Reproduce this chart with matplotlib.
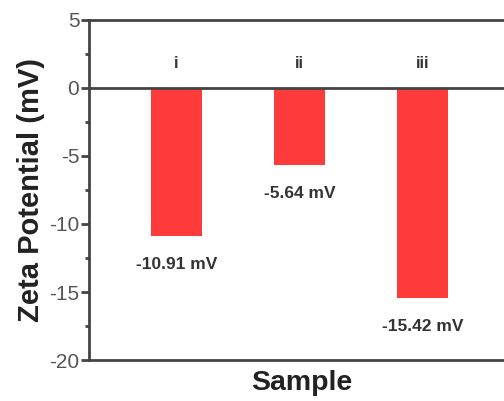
import numpy as np
import matplotlib
matplotlib.use("Agg")
import matplotlib.pyplot as plt

plt.rcParams['font.family'] = ['Liberation Sans', 'DejaVu Sans']
plt.rcParams['axes.unicode_minus'] = False

samples = ["i", "ii", "iii"]
zeta = [-10.91, -5.64, -15.42]
value_labels = ["-10.91 mV", "-5.64 mV", "-15.42 mV"]

fig = plt.figure(figsize=(5.04, 4.01), dpi=100)
ax = fig.add_axes([0.1766, 0.1022, 0.845, 0.848])

x = np.arange(1, len(samples) + 1)
ax.bar(x, zeta, width=0.41, color="#ff3a3a", zorder=2)
ax.axhline(0, color="#444444", lw=2, zorder=3)

for xi, name, v, lab in zip(x, samples, zeta, value_labels):
    ax.text(xi, 1.8, name, ha="center", va="center", fontsize=12,
            fontweight="bold", color="#333333")
    ax.text(xi, v - 2.1, lab, ha="center", va="center", fontsize=12.5,
            fontweight="bold", color="#333333")

ax.set_xlim(0.29, 3.75)
ax.set_ylim(-20, 5)
ax.set_yticks([5, 0, -5, -10, -15, -20])
ax.set_yticks(np.arange(-17.5, 5, 5), minor=True)
ax.set_xticks([])
ax.tick_params(axis="y", which="major", length=6, width=2, color="#444444",
               labelsize=15, labelcolor="#555555", pad=1)
ax.tick_params(axis="y", which="minor", length=3, width=2, color="#444444")
for s in ax.spines.values():
    s.set_linewidth(2)
    s.set_color("#444444")

ax.set_ylabel("Zeta Potential (mV)", fontsize=21, fontweight="bold",
              color="#222222", labelpad=3)
ax.set_xlabel("Sample", fontsize=20.5, fontweight="bold", color="#222222",
              labelpad=7)

fig.savefig("out.png", dpi=100)
